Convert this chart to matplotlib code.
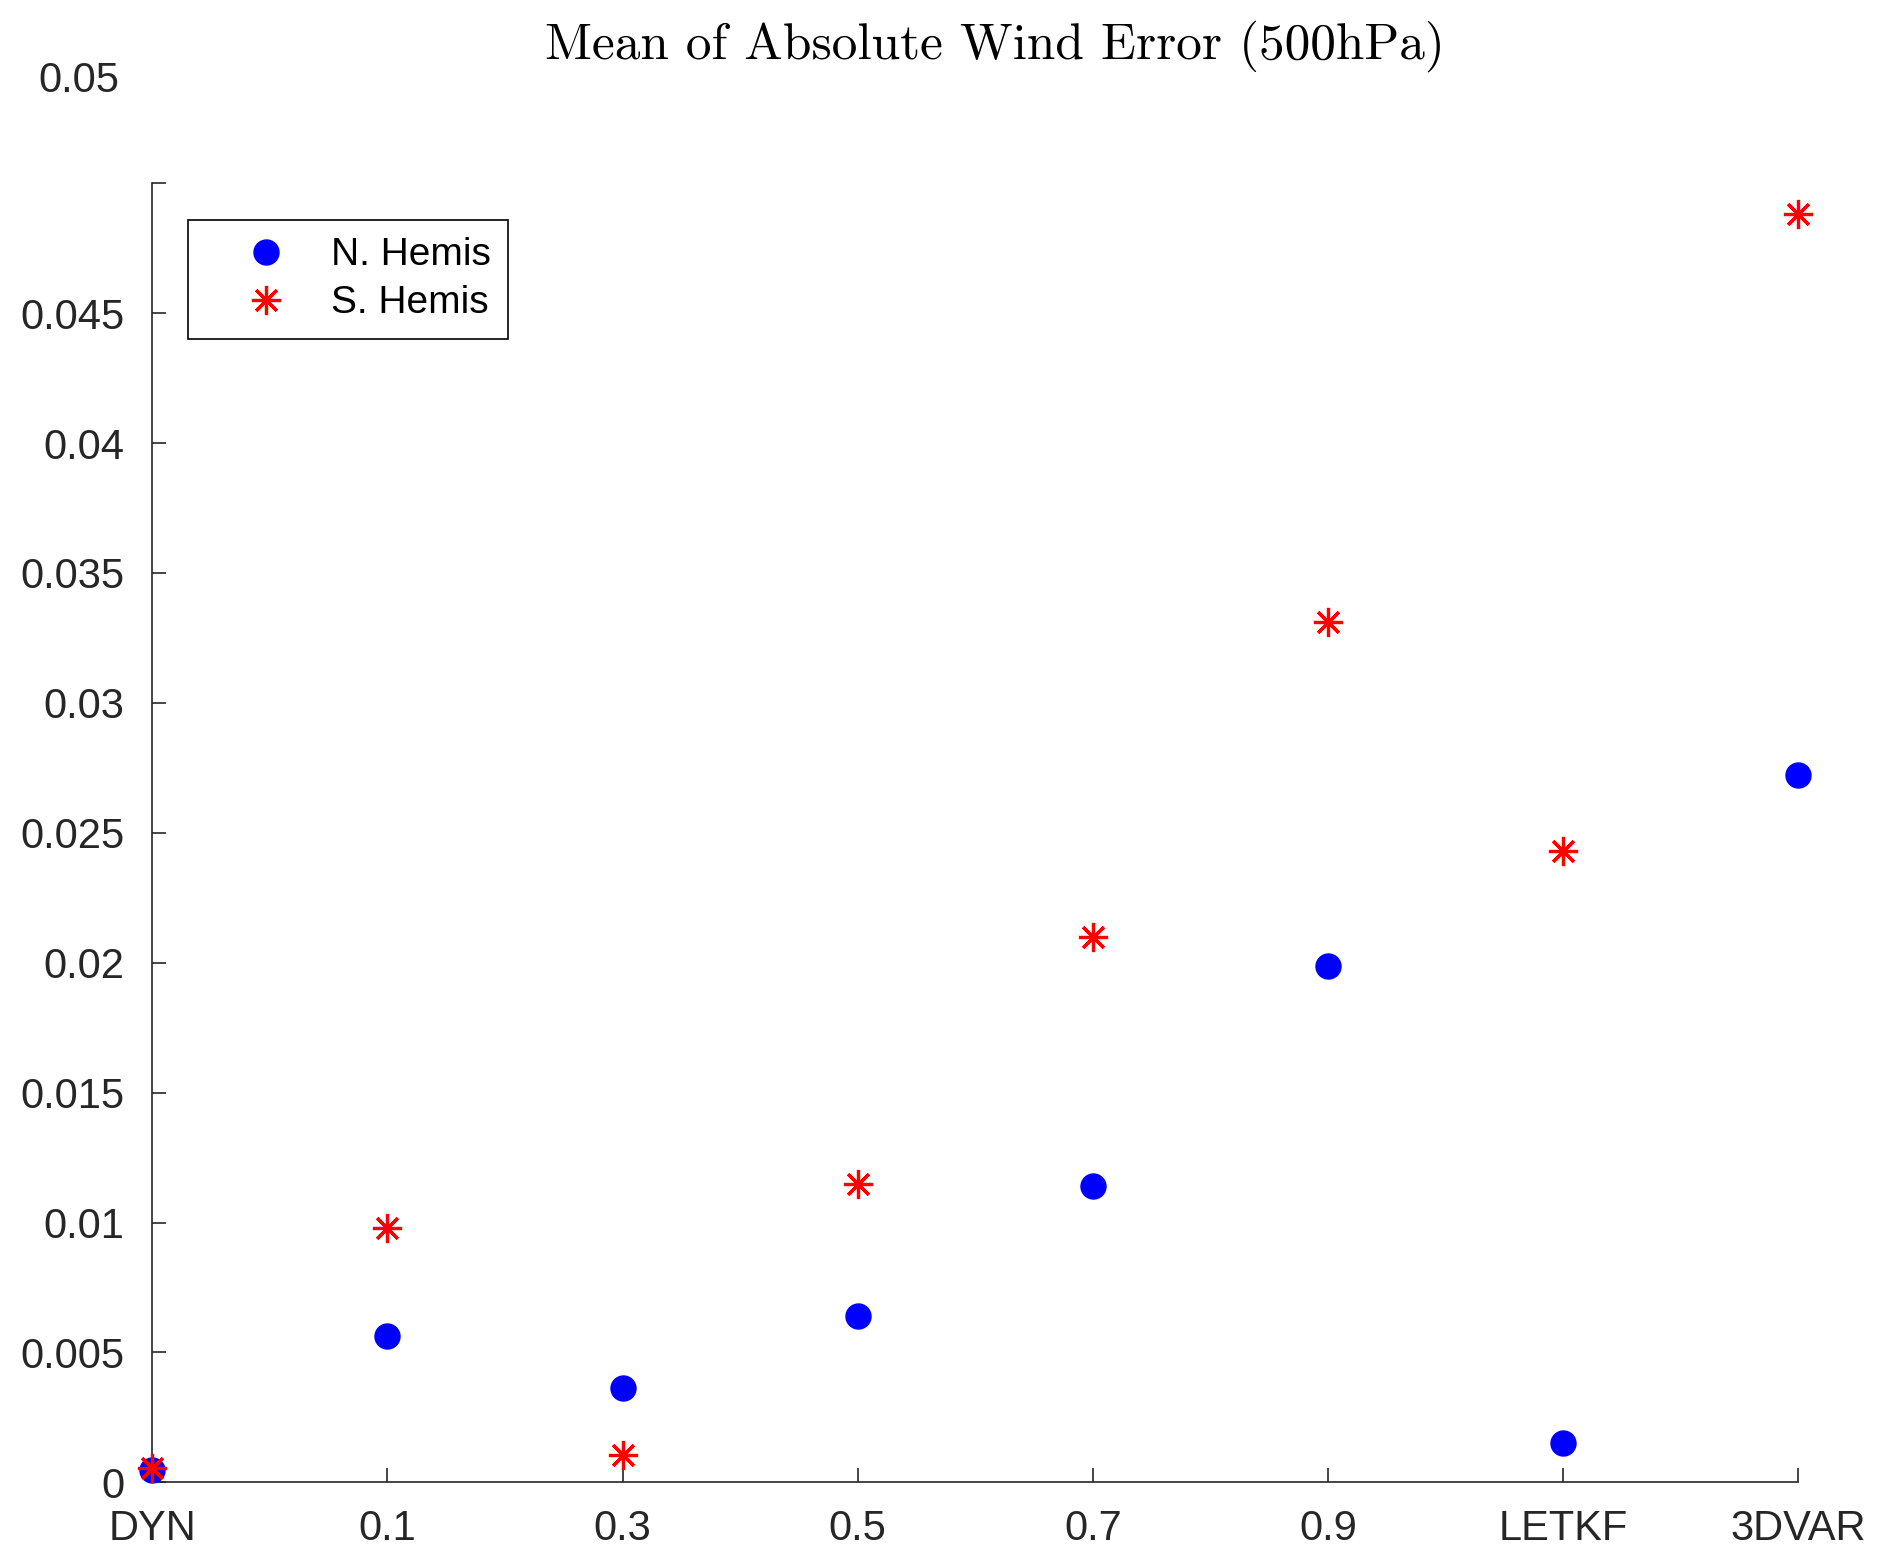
import numpy as np
import matplotlib.pyplot as plt

categories = ["DYN", "0.1", "0.3", "0.5", "0.7", "0.9", "LETKF", "3DVAR"]
n_hemis = [0.00046, 0.00564, 0.00365, 0.00642, 0.01141, 0.01987, 0.00152, 0.02721]
s_hemis = [0.00055, 0.00979, 0.00106, 0.0115, 0.0210, 0.0331, 0.0243, 0.0488]
yticks = [0, 0.005, 0.01, 0.015, 0.02, 0.025, 0.03, 0.035, 0.04, 0.045, 0.05]
ytick_labels = ["0", "0.005", "0.01", "0.015", "0.02", "0.025", "0.03", "0.035", "0.04", "0.045", ""]

plt.rcParams["font.family"] = ["Liberation Sans", "DejaVu Sans"]
dark = "#262626"

fig = plt.figure(figsize=(18.8, 15.53), dpi=100)
ax = fig.add_axes([0.081, 0.0455, 0.8756, 0.8365])

x = np.arange(len(categories))
ax.plot(x, n_hemis, ls="none", marker="o", ms=18, color="blue", mec="blue",
        label="N. Hemis", clip_on=False, zorder=3)
# matlab style asterisk: plus and cross together
ax.plot(x, s_hemis, ls="none", marker=(8, 2, 0), ms=21, mew=2.3, color="red",
        label="S. Hemis", clip_on=False, zorder=4)

ax.set_xlim(0, len(categories) - 1)
ax.set_ylim(0, 0.05)
ax.set_xticks(x)
ax.set_xticklabels(categories)
ax.set_yticks(yticks)
ax.set_yticklabels(ytick_labels)
ax.tick_params(direction="in", length=10, width=1.2, colors=dark,
               labelsize=30)
ax.tick_params(axis="x", pad=19)
ax.tick_params(axis="y", pad=20)
for side in ["top", "right"]:
    ax.spines[side].set_visible(False)
for side in ["left", "bottom"]:
    ax.spines[side].set_color(dark)
    ax.spines[side].set_linewidth(1.2)

# the top tick label sits well above its tick in the original export
ax.text(-0.0197, 1.079, "0.05", transform=ax.transAxes, ha="right",
        va="center", fontsize=30, color=dark)

ax.set_title("Mean of Absolute Wind Error (500hPa)", fontfamily="cmr10",
             fontsize=37, pad=90, x=0.512)

leg = ax.legend(loc="upper left", bbox_to_anchor=(0.0218, 0.972),
                borderaxespad=0, fancybox=False, framealpha=1,
                edgecolor="black", fontsize=28, handletextpad=0.12,
                borderpad=0.45, labelspacing=0.31, handlelength=3.1)
leg.get_frame().set_linewidth(1.2)

fig.savefig("out.png", dpi=100)
